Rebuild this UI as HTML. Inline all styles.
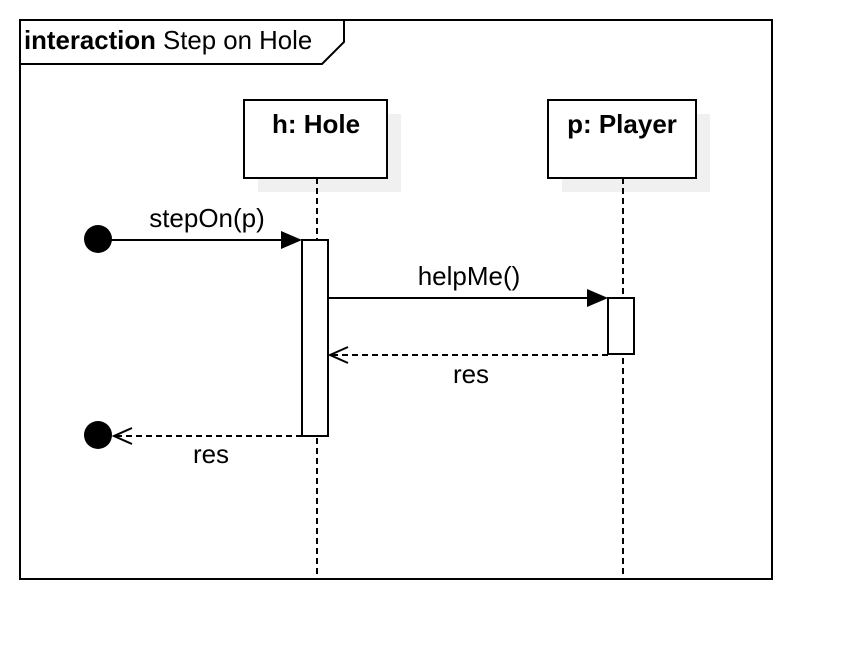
<!DOCTYPE html>
<html><head><style>body{margin:0;background:#fff}</style></head><body>
<svg width="852" height="660" xmlns="http://www.w3.org/2000/svg" font-family="Liberation Sans, sans-serif">
<rect x="0" y="0" width="852" height="660" fill="#fff"/>
<rect x="20" y="20" width="752" height="559" fill="none" stroke="#000" stroke-width="2"/>
<path d="M20 20 H344 V42 L322 64 H20" fill="none" stroke="#000" stroke-width="2"/>
<text x="24" y="49" font-size="25.8"><tspan font-weight="bold">interaction</tspan> Step on Hole</text>
<rect x="258" y="114" width="143" height="78" fill="#f0f0f0"/>
<rect x="562" y="114" width="148" height="78" fill="#f0f0f0"/>
<rect x="244" y="100" width="143" height="78" fill="#fff" stroke="#000" stroke-width="2"/>
<rect x="548" y="100" width="148" height="78" fill="#fff" stroke="#000" stroke-width="2"/>
<text x="316" y="133" font-size="26" font-weight="bold" text-anchor="middle">h: Hole</text>
<text x="622" y="133" font-size="26" font-weight="bold" text-anchor="middle">p: Player</text>
<line x1="317" y1="178" x2="317" y2="580" stroke="#000" stroke-width="2" stroke-dasharray="6,4"/>
<line x1="623" y1="178" x2="623" y2="580" stroke="#000" stroke-width="2" stroke-dasharray="6,4"/>
<rect x="302" y="240" width="26" height="196" fill="#fff" stroke="#000" stroke-width="2"/>
<rect x="608" y="298" width="26" height="56" fill="#fff" stroke="#000" stroke-width="2"/>
<circle cx="98" cy="239" r="14" fill="#000"/>
<line x1="98" y1="240" x2="290" y2="240" stroke="#000" stroke-width="2"/>
<path d="M281 231 L302 240 L281 249 Z" fill="#000"/>
<text x="207" y="227" font-size="26" text-anchor="middle">stepOn(p)</text>
<line x1="328" y1="298" x2="596" y2="298" stroke="#000" stroke-width="2"/>
<path d="M587 289 L608 298 L587 307 Z" fill="#000"/>
<text x="469" y="285" font-size="26" text-anchor="middle">helpMe()</text>
<line x1="608" y1="355" x2="330" y2="355" stroke="#000" stroke-width="2" stroke-dasharray="6,4"/>
<path d="M348 347 L330 355 L348 363" fill="none" stroke="#000" stroke-width="2"/>
<text x="471" y="383" font-size="26" text-anchor="middle">res</text>
<circle cx="98" cy="435" r="14" fill="#000"/>
<line x1="302" y1="436" x2="114" y2="436" stroke="#000" stroke-width="2" stroke-dasharray="6,4"/>
<path d="M132 428 L114 436 L132 444" fill="none" stroke="#000" stroke-width="2"/>
<text x="211" y="463" font-size="26" text-anchor="middle">res</text>
</svg>
</body></html>
